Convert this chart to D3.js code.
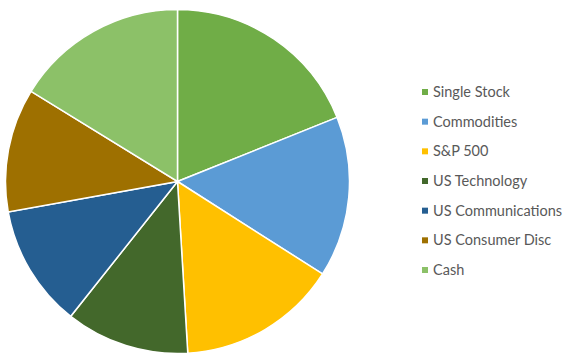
<!DOCTYPE html>
<html>
<head>
<meta charset="utf-8">
<script src="https://cdn.jsdelivr.net/npm/d3@7.9.0/dist/d3.min.js"></script>
<style>
  body { margin: 0; background: #fff; }
  svg { display: block; }
</style>
</head>
<body>
<svg id="chart" width="565" height="354"></svg>
<script>
// values (share of the whole, %)
const categories = ["Single Stock", "Commodities", "S&P 500", "US Technology", "US Communications", "US Consumer Disc", "Cash"];
const values = [18.9, 15.1, 15.0, 11.6, 11.5, 11.6, 16.2];
const colors = ["#70ad47", "#5b9bd5", "#ffc000", "#43682b", "#255e91", "#9e7000", "#8cc168"];

let svg = d3.select("#chart");
let cx = 177.5, cy = 181.5, radius = 172;

let data = categories.map((c, i) => ({ label: c, value: values[i], color: colors[i] }));

let pie = d3.pie().sort(null).value(d => d.value);
let arc = d3.arc().innerRadius(0).outerRadius(radius);

let g = svg.append("g").attr("transform", `translate(${cx},${cy})`);

g.selectAll("path")
  .data(pie(data))
  .enter().append("path")
    .attr("d", arc)
    .attr("fill", d => d.data.color)
    .attr("stroke", "#fff")
    .attr("stroke-width", 1.5);

// legend
const legend = svg.append("g")
  .attr("transform", "translate(422, 92)");

let y = d3.scalePoint().domain(categories).range([0, 178]);

data.forEach(d => {
  const row = legend.append("g")
    .attr("transform", `translate(0, ${y(d.label)})`);
  row.append("rect")
    .attr("x", 0)
    .attr("y", -3)
    .attr("width", 6)
    .attr("height", 6)
    .attr("fill", d.color);
  row.append("text")
    .attr("x", 11)
    .attr("y", 0)
    .attr("dy", "0.35em")
    .attr("font-family", "Lato, sans-serif")
    .attr("font-size", "14.5px")
    .attr("fill", "#595959")
    .text(d.label);
});
</script>
</body>
</html>
